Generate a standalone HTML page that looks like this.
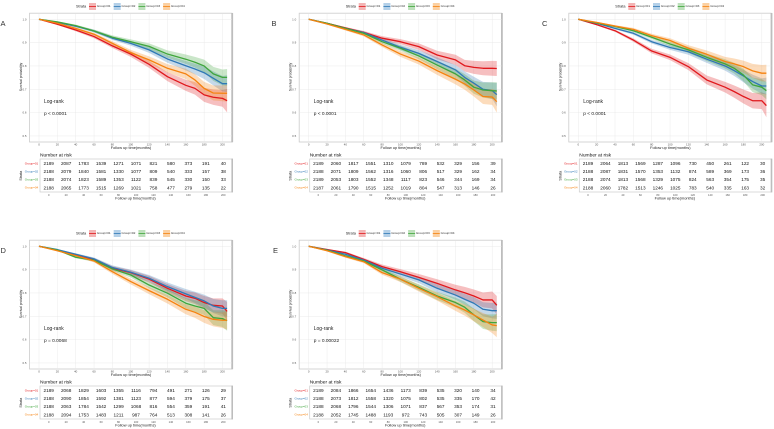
<!DOCTYPE html>
<html lang="en">
<head>
<meta charset="utf-8">
<title>Kaplan-Meier survival curves</title>
<style>
html,body{margin:0;padding:0;background:#fff;}
body{width:774px;height:429px;overflow:hidden;}
svg{display:block;font-family:"Liberation Sans",sans-serif;filter:blur(0.25px);}
</style>
</head>
<body>
<svg id="fig" width="774" height="429" viewBox="0 0 774 429" xmlns="http://www.w3.org/2000/svg"></svg>
<script>
const months=[0,20,40,60,80,100,120,140,160,170,180,190,200,205];
const xTicks=[0,20,40,60,80,100,120,140,160,180,200];
const yTicks=[1.0,0.9,0.8,0.7,0.6,0.5];
const groupNames=["Group=01","Group=02","Group=03","Group=04"];

const aRed=[1,.979,.954,.926,.886,.851,.807,.754,.717,.704,.676,.666,.661,.651];
const aBlue=[1,.987,.97,.95,.919,.897,.869,.83,.801,.787,.771,.747,.724,.724];
const aGreen=[1,.989,.973,.95,.923,.904,.884,.851,.829,.816,.80,.766,.751,.751];
const aOrange=[1,.983,.961,.936,.897,.857,.826,.79,.766,.74,.704,.684,.683,.683];
const aRedCi=[0,.003,.005,.007,.009,.012,.015,.019,.024,.027,.03,.033,.036,.05];
const aBlueCi=[0,.002,.004,.006,.008,.010,.013,.016,.02,.023,.027,.03,.033,.036];
const aGreenCi=[0,.002,.004,.006,.008,.010,.013,.016,.02,.023,.027,.03,.034,.036];
const aOrangeCi=[0,.003,.005,.006,.009,.012,.015,.018,.022,.025,.028,.032,.034,.036];
const aRisk=[[2189,2087,1783,1539,1271,1071,821,580,373,191,40],[2188,2079,1840,1581,1330,1077,809,540,333,157,38],[2188,2074,1823,1589,1353,1122,839,545,330,150,33],[2188,2065,1773,1515,1269,1021,758,477,279,135,22]];

const bRed=[1,.983,.963,.944,.919,.904,.883,.847,.826,.801,.794,.79,.79,.789];
const bBlue=[1,.981,.961,.943,.911,.88,.854,.819,.783,.751,.726,.70,.694,.677];
const bGreen=[1,.983,.961,.94,.904,.876,.843,.804,.766,.74,.709,.697,.694,.693];
const bOrange=[1,.98,.957,.933,.89,.851,.821,.78,.743,.723,.697,.669,.667,.647];
const bRedCi=[0,.002,.004,.006,.009,.011,.014,.018,.022,.025,.028,.03,.032,.032];
const bBlueCi=[0,.002,.004,.006,.009,.011,.014,.018,.021,.025,.028,.032,.035,.05];
const bGreenCi=[0,.002,.004,.006,.009,.011,.014,.018,.022,.025,.028,.032,.036,.037];
const bOrangeCi=[0,.003,.005,.006,.009,.012,.015,.018,.022,.025,.028,.032,.034,.047];
const bRisk=[[2189,2060,1817,1551,1310,1079,789,532,329,156,39],[2188,2071,1809,1562,1316,1060,806,517,329,162,34],[2189,2053,1803,1552,1348,1117,823,546,344,169,34],[2187,2061,1790,1515,1252,1019,804,547,313,146,26]];

const cRed=[1,.977,.951,.911,.864,.837,.797,.74,.709,.69,.669,.651,.651,.63];
const cBlue=[1,.983,.961,.94,.904,.879,.861,.829,.80,.78,.757,.733,.714,.714];
const cGreen=[1,.984,.969,.951,.923,.894,.869,.837,.809,.79,.761,.719,.709,.694];
const cOrange=[1,.987,.971,.957,.93,.909,.876,.85,.819,.809,.797,.779,.769,.769];
const cRedCi=[0,.003,.005,.007,.01,.012,.015,.019,.023,.026,.03,.033,.036,.05];
const cBlueCi=[0,.002,.004,.006,.008,.010,.013,.016,.02,.023,.027,.03,.033,.036];
const cGreenCi=[0,.002,.004,.006,.008,.010,.013,.016,.02,.023,.027,.031,.034,.037];
const cOrangeCi=[0,.002,.004,.006,.008,.010,.013,.016,.02,.023,.026,.03,.035,.036];
const cRisk=[[2189,2064,1813,1569,1287,1096,730,450,261,122,30],[2188,2087,1831,1570,1353,1132,874,589,369,173,36],[2188,2074,1813,1568,1329,1075,824,563,354,175,35],[2188,2060,1782,1513,1246,1025,783,540,335,163,32]];

const dRed=[1,.984,.964,.944,.906,.887,.859,.82,.787,.777,.759,.747,.744,.721];
const dBlue=[1,.986,.966,.946,.909,.889,.863,.827,.796,.781,.766,.744,.734,.734];
const dGreen=[1,.984,.953,.94,.903,.877,.834,.799,.756,.744,.734,.694,.69,.681];
const dOrange=[1,.981,.96,.937,.891,.849,.81,.773,.73,.717,.699,.687,.683,.683];
const dRedCi=[0,.002,.004,.006,.009,.011,.014,.018,.022,.025,.028,.03,.033,.04];
const dBlueCi=[0,.002,.004,.006,.009,.011,.014,.018,.021,.024,.027,.03,.035,.035];
const dGreenCi=[0,.002,.004,.006,.009,.011,.014,.018,.022,.025,.028,.032,.036,.043];
const dOrangeCi=[0,.003,.005,.006,.009,.012,.015,.018,.021,.024,.027,.03,.033,.04];
const dRisk=[[2189,2068,1829,1603,1355,1116,794,491,271,126,29],[2188,2090,1854,1592,1381,1123,877,594,379,175,37],[2188,2063,1784,1542,1299,1068,816,554,359,191,41],[2188,2094,1753,1483,1211,987,764,513,308,141,26]];

const eRed=[1,.986,.973,.944,.913,.891,.867,.841,.813,.801,.787,.77,.77,.747];
const eBlue=[1,.984,.966,.941,.906,.881,.856,.82,.791,.773,.756,.73,.724,.724];
const eGreen=[1,.983,.959,.937,.899,.859,.824,.787,.759,.739,.706,.677,.673,.673];
const eOrange=[1,.981,.956,.934,.887,.859,.82,.784,.744,.727,.706,.684,.663,.66];
const eRedCi=[0,.002,.004,.006,.009,.011,.014,.018,.022,.025,.028,.032,.036,.04];
const eBlueCi=[0,.002,.004,.006,.009,.011,.014,.017,.02,.023,.026,.03,.033,.035];
const eGreenCi=[0,.002,.004,.006,.009,.011,.014,.017,.021,.024,.027,.031,.035,.037];
const eOrangeCi=[0,.003,.005,.006,.009,.012,.014,.017,.021,.024,.027,.03,.035,.05];
const eRisk=[[2189,2084,1866,1654,1436,1173,839,535,320,140,34],[2188,2073,1812,1558,1320,1075,802,535,335,170,42],[2188,2068,1796,1544,1306,1071,837,567,353,174,31],[2188,2052,1745,1488,1193,972,743,505,307,149,26]];

const NS="http://www.w3.org/2000/svg";
const fig=document.getElementById("fig");
const seriesColors=["#e0181c","#2f78b5","#3fa53c","#f5820f"];
const legendTints=["#f3b4b4","#b4d0e8","#bde0bb","#fbd0a2"];
const rowNames=["group-01","group-02","group-03","group-04"];

function make(tag,attrs,parent){
  const el=document.createElementNS(NS,tag);
  for(const k in attrs){el.setAttribute(k,attrs[k]);}
  parent.appendChild(el);
  return el;
}
function label(parent,x,y,size,content,anchor,fill,rotate){
  const attrs={x:x,y:y,"font-size":size,"text-anchor":anchor||"start",fill:fill||"#333"};
  if(rotate){attrs.transform="rotate(-90 "+x+" "+y+")";}
  const el=make("text",attrs,parent);
  el.textContent=content;
  return el;
}
function drawPanel(letter,series,cis,risk,logrank,dx,dy,letterX,letterY){
  const xOf=t=>dx+39+t*0.9175;
  const yOf=s=>dy+19.3+(1-s)*233.3;
  const tableX=t=>dx+48.7+t*0.873;
  const rowY=i=>dy+163.4+i*8.07;
  const g=make("g",{},fig);
  
  

  const title=label(g,letterX,letterY,7.5,letter,"start","#333");
  
  

  /* legend */
  const legend=make("g",{},g);
  
  
  const strataLegend=label(legend,dx+76,dy+7.5,3.8,"Strata","start","#222");
  
  
  groupNames.forEach((name,i)=>{
    const sx=dx+89+i*24.7;
    const entry=make("g",{},legend);
    
    
    make("rect",{x:sx,y:dy+3,width:7,height:7,fill:legendTints[i]},entry);
    make("line",{x1:sx,x2:sx+7,y1:dy+6.5,y2:dy+6.5,stroke:seriesColors[i],"stroke-width":0.8},entry);
    label(entry,sx+7.8,dy+7.2,3.1,name,"start","#333");
  });

  /* plot frame and grid */
  const frame=make("rect",{x:dx+29.5,y:dy+13.2,width:202.5,height:128.8,fill:"#fff",stroke:"#cccccc","stroke-width":0.8},g);
  
  
  const rightEdge=make("line",{x1:dx+232.2,x2:dx+232.2,y1:dy+13,y2:dy+142.3,stroke:"#bdbdbd","stroke-width":1.8},g);
  
  
  const grid=make("g",{stroke:"#e6e6e6","stroke-width":0.4},g);
  
  
  xTicks.forEach(t=>{make("line",{x1:xOf(t),x2:xOf(t),y1:dy+13.2,y2:dy+142},grid);});
  yTicks.forEach(v=>{make("line",{x1:dx+29.5,x2:dx+232,y1:yOf(v),y2:yOf(v)},grid);});

  /* axes */
  xTicks.forEach(t=>{
    const tick=label(g,xOf(t),dy+145.3,2.9,String(t),"middle","#555");
    
    
  });
  yTicks.forEach(v=>{
    const tick=label(g,dx+26.5,yOf(v)+1,2.9,v.toFixed(1),"end","#555");
    
    
  });
  const xTitle=label(g,dx+131,dy+149.2,3.9,"Follow up time(months)","middle","#222");
  
  
  const yTitle=label(g,dx+22,dy+77,3.4,"Survival probability","middle","#222",true);
  
  

  /* confidence bands then curves */
  series.forEach((vals,i)=>{
    const upper=months.map((t,k)=>xOf(t).toFixed(2)+","+yOf(Math.min(1,vals[k]+cis[i][k])).toFixed(2));
    const lower=months.map((t,k)=>xOf(t).toFixed(2)+","+yOf(vals[k]-cis[i][k]).toFixed(2)).reverse();
    const band=make("polygon",{points:upper.concat(lower).join(" "),fill:seriesColors[i],"fill-opacity":0.28},g);
    
    
  });
  series.forEach((vals,i)=>{
    const pts=months.map((t,k)=>xOf(t).toFixed(2)+","+yOf(vals[k]).toFixed(2)).join(" ");
    const curve=make("polyline",{points:pts,fill:"none",stroke:seriesColors[i],"stroke-width":1.3,"stroke-linejoin":"round"},g);
    
    
  });

  /* log-rank annotation */
  const lr=label(g,dx+44,dy+102.8,5,"Log-rank","start","#1c1c1c");
  
  
  const pv=label(g,dx+44,dy+114.8,4.8,logrank,"start","#1c1c1c");
  
  

  /* risk table */
  const nar=label(g,dx+40,dy+156.6,4.9,"Number at risk","start","#111");
  
  
  const tFrame=make("rect",{x:dx+40,y:dy+159,width:192,height:33,fill:"#fff",stroke:"#cccccc","stroke-width":0.7},g);
  
  
  const tEdge=make("line",{x1:dx+232.2,x2:dx+232.2,y1:dy+158.6,y2:dy+192.4,stroke:"#bdbdbd","stroke-width":1.6},g);
  
  
  risk.forEach((row,i)=>{
    const rowLabel=label(g,dx+38.2,rowY(i)+1,3,groupNames[i],"end",seriesColors[i]);
    
    
    row.forEach((n,k)=>{
      const cell=label(g,tableX(xTicks[k]),rowY(i)+1.7,4.7,String(n),"middle","#111");
      
      
    });
  });
  xTicks.forEach(t=>{
    const tick=label(g,tableX(t),dy+195.8,2.7,String(t),"middle","#555");
    
    
  });
  const tTitle=label(g,dx+135.5,dy+199.5,3.9,"Follow up time(months)","middle","#222");
  
  
  const strata=label(g,dx+22,dy+175.7,3.7,"Strata","middle","#222",true);
  
  
}

drawPanel("A",[aRed,aBlue,aGreen,aOrange],[aRedCi,aBlueCi,aGreenCi,aOrangeCi],aRisk,"p < 0.0001",0,0,0.5,26);
drawPanel("B",[bRed,bBlue,bGreen,bOrange],[bRedCi,bBlueCi,bGreenCi,bOrangeCi],bRisk,"p < 0.0001",269.7,0,271.5,26);
drawPanel("C",[cRed,cBlue,cGreen,cOrange],[cRedCi,cBlueCi,cGreenCi,cOrangeCi],cRisk,"p < 0.0001",539.3,0,542,26);
drawPanel("D",[dRed,dBlue,dGreen,dOrange],[dRedCi,dBlueCi,dGreenCi,dOrangeCi],dRisk,"p = 0.0068",0,227,0.5,253);
drawPanel("E",[eRed,eBlue,eGreen,eOrange],[eRedCi,eBlueCi,eGreenCi,eOrangeCi],eRisk,"p = 0.00022",269.7,227,273,253);
</script>
</body>
</html>
